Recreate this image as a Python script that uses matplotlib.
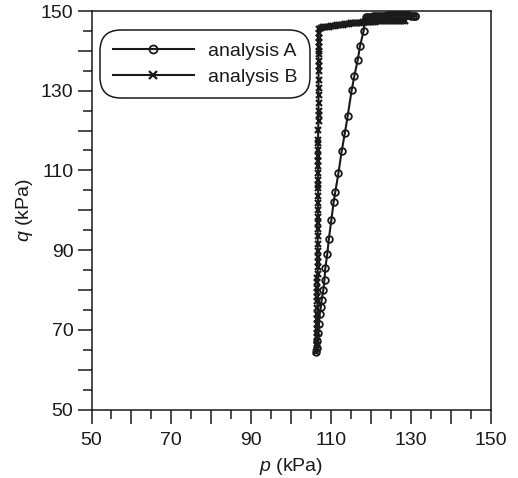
import matplotlib
matplotlib.use("Agg")
import matplotlib.pyplot as plt
from matplotlib.ticker import MultipleLocator, FixedLocator, FixedFormatter

plt.rcParams['font.family'] = ['Liberation Sans', 'DejaVu Sans']
plt.rcParams['mathtext.fontset'] = 'custom'
plt.rcParams['mathtext.it'] = 'Liberation Sans:italic'
plt.rcParams['mathtext.rm'] = 'Liberation Sans'

# analysis A: stress path (p, q) in kPa
a_p = [106.3, 106.4, 106.6, 106.8, 107.0, 107.2, 107.5, 107.7, 108.1, 108.4,
       108.6, 109.1, 109.5, 110.1, 110.7, 111.1, 111.9, 112.7, 113.5, 114.2,
       115.2, 115.9, 116.7, 117.3, 118.2, 118.5, 118.8,
       119.0, 119.5, 120.0, 120.5, 121.0, 121.5, 122.0, 122.5, 123.0, 123.5,
       124.0, 124.5, 125.0, 125.5, 126.0, 126.5, 127.0, 127.5, 128.0, 128.5,
       129.0, 129.5, 130.0, 130.5, 131.0, 131.2]
a_q = [64.5, 65.5, 67.2, 69.3, 71.4, 73.9, 75.8, 77.5, 80.0, 82.6,
       85.5, 89.1, 92.9, 97.5, 102.1, 104.6, 109.4, 114.8, 119.4, 123.6,
       130.1, 133.8, 137.6, 141.2, 145.0, 147.4, 148.4,
       148.5, 148.6, 148.6, 148.7, 148.7, 148.7, 148.8, 148.8, 148.8, 148.8,
       148.9, 148.9, 148.9, 148.9, 148.9, 148.9, 149.0, 149.0, 149.0, 149.0,
       148.9, 148.9, 148.8, 148.8, 148.7, 148.7]

# analysis B: stress path (p, q) in kPa
b_p = [106.3, 106.4, 106.4, 106.4, 106.5, 106.5, 106.5, 106.5, 106.5, 106.6,
       106.6, 106.6, 106.6, 106.6, 106.6, 106.6, 106.6, 106.7, 106.7, 106.7,
       106.7, 106.7, 106.7, 106.7, 106.7, 106.7, 106.8, 106.8, 106.8, 106.8,
       106.8, 106.8, 106.8, 106.8, 106.8, 106.8, 106.8, 106.8, 106.8, 106.8,
       106.8, 106.9, 106.9, 106.9, 106.9, 106.9, 106.9, 106.9, 106.9, 106.9,
       106.9, 106.9, 106.9, 106.9, 106.9, 106.9, 106.9, 106.9,
       107.5, 108.0, 108.5, 109.0, 109.5, 110.0, 110.5, 111.0, 111.5, 112.0,
       112.5, 113.0, 113.5, 114.0, 114.5, 115.0, 115.5, 116.0, 116.5, 117.0,
       117.5, 118.0, 118.5, 119.0, 119.5, 120.0, 120.5, 121.0, 121.5, 122.0,
       122.5, 123.0, 123.5, 124.0, 124.5, 125.0, 125.5, 126.0, 126.5, 127.0,
       127.5, 128.0, 128.5]
b_q = [64.5, 65.5, 66.3, 67.2, 68.2, 69.3, 70.3, 71.4, 72.6, 73.9,
       75.5, 77.3, 78.3, 79.4, 80.6, 81.9, 83.0, 84.0, 85.7, 87.0,
       88.2, 89.8, 91.6, 93.5, 95.4, 96.8, 98.3, 100.0, 101.7, 103.5,
       105.5, 106.3, 107.6, 109.3, 111.0, 112.3, 113.5, 115.2, 116.9, 117.7,
       120.2, 122.5, 124.0, 124.9, 126.9, 128.8, 130.7, 132.8, 134.9, 136.2,
       137.5, 139.2, 140.0, 141.0, 142.1, 143.3, 144.6, 145.6,
       145.8, 145.9, 146.0, 146.0, 146.1, 146.2, 146.3, 146.3, 146.4, 146.5,
       146.5, 146.6, 146.7, 146.7, 146.8, 146.9, 146.9, 147.0, 147.0, 147.1,
       147.1, 147.2, 147.2, 147.2, 147.3, 147.3, 147.3, 147.3, 147.4, 147.4,
       147.4, 147.4, 147.4, 147.5, 147.5, 147.5, 147.5, 147.5, 147.5, 147.5,
       147.5, 147.5, 147.5]

x_ticks = [50, 60, 70, 80, 90, 100, 110, 120, 130, 140, 150]
x_labels = ['50', '', '70', '', '90', '', '110', '', '130', '', '150']
y_ticks = x_ticks
y_labels = x_labels

ink = '#1a1a1a'
fig = plt.figure(figsize=(5.18, 4.78), dpi=100)
ax = fig.add_axes([91.5 / 518, 1 - 409.5 / 478, 399 / 518, 398.5 / 478])

ax.plot(a_p, a_q, color=ink, lw=1.5, marker='o', ms=4.8, mfc='none',
        mec=ink, mew=1.3, label='analysis A')
ax.plot(b_p, b_q, color=ink, lw=1.5, marker='x', ms=4.8,
        mec=ink, mew=1.6, label='analysis B')

ax.set_xlim(50, 150)
ax.set_ylim(50, 150)
for axis, ticks, labels in ((ax.xaxis, x_ticks, x_labels), (ax.yaxis, y_ticks, y_labels)):
    axis.set_major_locator(FixedLocator(ticks))
    axis.set_major_formatter(FixedFormatter(labels))
    axis.set_minor_locator(MultipleLocator(5))
ax.tick_params(which='both', direction='out', color=ink, width=1.1,
               labelsize=14, labelcolor=ink, top=False, right=False)
ax.tick_params(which='major', length=10, pad=3)
ax.tick_params(which='minor', length=6.5)
ax.tick_params(axis='x', which='major', pad=6)
for s in ax.spines.values():
    s.set_color(ink)
    s.set_linewidth(1.1)

ax.set_xlabel('$p$ (kPa)', fontsize=14, color=ink, labelpad=5)
ax.set_ylabel('$q$ (kPa)', fontsize=14, color=ink, labelpad=4)

leg = ax.legend(loc='upper left', bbox_to_anchor=(100 / 518, 1 - 30 / 478),
                bbox_transform=fig.transFigure, fontsize=14,
                handlelength=4.2, handletextpad=0.7, labelspacing=0.4,
                borderpad=0.65, borderaxespad=0, fancybox=True, framealpha=1,
                markerscale=1.2)
frame = leg.get_frame()
frame.set_edgecolor(ink)
frame.set_linewidth(1.1)
frame.set_boxstyle('round,pad=0,rounding_size=1.1')
for t in leg.get_texts():
    t.set_color(ink)

fig.savefig('out.png', dpi=100)
